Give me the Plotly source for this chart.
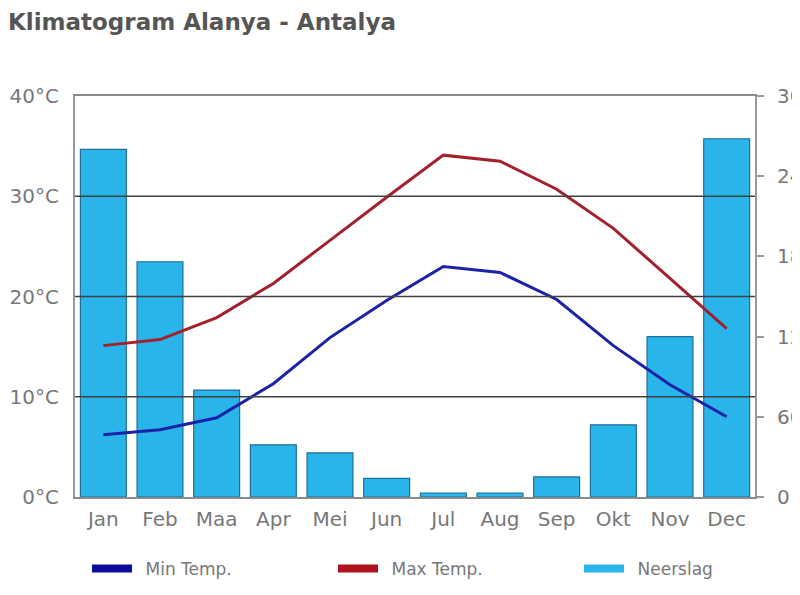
import plotly.graph_objects as go

months = ["Jan", "Feb", "Maa", "Apr", "Mei", "Jun", "Jul", "Aug", "Sep", "Okt", "Nov", "Dec"]
min_temp = [6.2, 6.7, 7.9, 11.3, 15.9, 19.6, 23.0, 22.4, 19.7, 15.1, 11.2, 8.0]
max_temp = [15.1, 15.7, 17.9, 21.3, 25.6, 29.9, 34.1, 33.5, 30.7, 26.8, 21.8, 16.8]
neerslag = [260, 176, 80, 39, 33, 14, 3, 3, 15, 54, 120, 268]

temp_ticks = [0, 10, 20, 30, 40]
temp_labels = ["0°C", "10°C", "20°C", "30°C", "40°C"]
rain_ticks = [0, 60, 120, 180, 240, 300]
rain_labels = ["0", "60", "120", "180", "240", "300"]

BLUE = "#1b22a6"
RED = "#a3202e"
BAR = "#29b5ea"
FONT = "DejaVu Sans"

# page has an 8px body margin: figure is sized to fill the rest of the window
W, H = 792, 587

fig = go.Figure()

fig.add_trace(go.Bar(
    x=months, y=neerslag, name="Neerslag", yaxis="y",
    marker=dict(color=BAR, line=dict(color="#1f6f96", width=1.2)),
    showlegend=False,
))
fig.add_trace(go.Scatter(
    x=months, y=min_temp, name="Min Temp.", yaxis="y2", mode="lines",
    line=dict(color=BLUE, width=3), showlegend=False,
))
fig.add_trace(go.Scatter(
    x=months, y=max_temp, name="Max Temp.", yaxis="y2", mode="lines",
    line=dict(color=RED, width=3), showlegend=False,
))

# legend-only entries with thick swatches, each in its own legend box
legend_items = [("Min Temp.", "#0b0b9e", "legend"),
                ("Max Temp.", "#b0121e", "legend2"),
                ("Neerslag", BAR, "legend3")]
for name, col, lg in legend_items:
    fig.add_trace(go.Scatter(
        x=[None], y=[None], name="\u2002" + name, mode="lines",
        line=dict(color=col, width=8), showlegend=True, yaxis="y2", legend=lg,
    ))

# gridlines drawn above bars
for t in temp_ticks[1:-1]:
    fig.add_shape(type="line", xref="paper", x0=0, x1=1, yref="y2", y0=t, y1=t,
                  line=dict(color="#404040", width=1.5), layer="above")

legend_common = dict(
    orientation="h", xanchor="left", xref="container", yref="container",
    y=1 - 561 / H, yanchor="middle", itemwidth=40,
    font=dict(family=FONT, size=17, color="#777777"),
    bgcolor="rgba(0,0,0,0)",
)

fig.update_layout(
    width=W, height=H,
    margin=dict(l=67, r=45, t=88, b=98, autoexpand=False),
    paper_bgcolor="white", plot_bgcolor="white",
    font=dict(family=FONT, color="#777777"),
    title=dict(text="<b>Klimatogram Alanya - Antalya</b>", xref="container", x=0.0,
               xanchor="left", yref="container", y=1 - 14 / H, yanchor="middle",
               pad=dict(l=0, t=0, b=0, r=0),
               font=dict(family=FONT, size=23, color="#555555")),
    bargap=0.19,
    xaxis=dict(
        automargin=False,
        showline=True, linecolor="#8a8a8a", linewidth=2, mirror=True,
        ticks="", tickfont=dict(size=20, color="#777777"), showgrid=False,
        ticklabelstandoff=3,
    ),
    yaxis=dict(
        automargin=False,
        side="right", range=[0, 300], tickvals=rain_ticks, ticktext=rain_labels,
        showline=True, linecolor="#999999", linewidth=2,
        ticks="outside", ticklen=7, tickcolor="#999999", tickwidth=2,
        tickfont=dict(size=20, color="#777777"), showgrid=False, zeroline=False,
        ticklabelstandoff=9,
    ),
    yaxis2=dict(
        automargin=False,
        side="left", overlaying="y", range=[0, 40], tickvals=temp_ticks, ticktext=temp_labels,
        showline=True, linecolor="#999999", linewidth=2,
        ticks="", tickfont=dict(size=20, color="#777777"), showgrid=False, zeroline=False,
        ticklabelstandoff=10,
    ),
    legend=dict(legend_common, x=79 / W),
    legend2=dict(legend_common, x=325 / W),
    legend3=dict(legend_common, x=571 / W),
)

fig.write_html("out.html")
